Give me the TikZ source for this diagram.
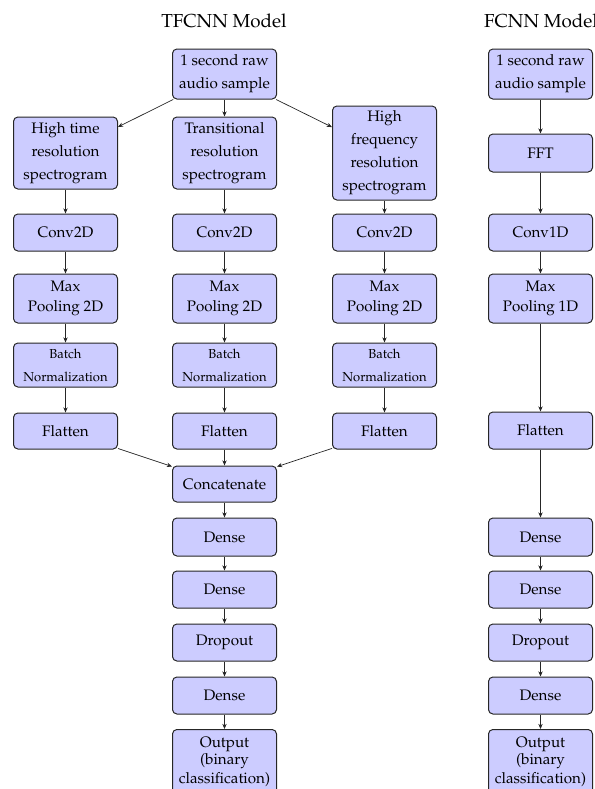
\documentclass[tikz,border=0pt]{standalone}
\usepackage[T1]{fontenc}
\usepackage{mathpazo}
\usetikzlibrary{arrows.meta}
\tikzset{
  box/.style={draw=black!85, line width=0.5pt, fill=blue!20, rounded corners=2.2pt,
    minimum width=52pt, inner sep=0pt, align=center,
    font=\fontsize{7.6}{11.5}\selectfont},
  smallbox/.style={box, font=\fontsize{6.5}{11.5}\selectfont},
  ttl/.style={font=\fontsize{9.4}{11}\selectfont, inner sep=0pt},
  conn/.style={draw=black!85, line width=0.35pt, -{Stealth[length=2.6pt,width=2.2pt]}}
}
\begin{document}
\begin{tikzpicture}[x=0.5pt,y=-0.5pt]
\useasboundingbox (0,0) rectangle (595,789);
\clip (0,0) rectangle (595,789);
% titles
\node[ttl] (t1) at (224,21) {TFCNN Model};
\node[ttl] (t2) at (541,21) {FCNN Model};
% TFCNN
\node[box, minimum height=25pt] (in1) at (224.5,74) {1 second raw\\audio sample};
\node[box, minimum height=36pt] (sp1) at (65.5,153) {High time\\resolution\\spectrogram};
\node[box, minimum height=36pt] (sp2) at (224.5,153) {Transitional\\resolution\\spectrogram};
\node[box, minimum height=47pt] (sp3) at (384.5,153) {High\\frequency\\resolution\\spectrogram};
\node[box, minimum height=18pt] (cat) at (224.5,484) {Concatenate};
\foreach \n/\x in {1/65.5,2/224.5,3/384.5}{
  \node[box, minimum height=18.5pt] (c\n) at (\x,232.5) {Conv2D};
  \node[box, minimum height=24.5pt] (m\n) at (\x,298.5) {Max\\[-1.5pt]Pooling 2D};
  \node[smallbox, minimum height=22pt] (b\n) at (\x,365) {Batch\\Normalization};
  \node[box, minimum height=18pt] (f\n) at (\x,431) {Flatten};
  \draw[conn] (sp\n) -- (c\n);
  \draw[conn] (c\n) -- (m\n);
  \draw[conn] (m\n) -- (b\n);
  \draw[conn] (b\n) -- (f\n);
  \draw[conn] (f\n) -- (cat);
}
\draw[conn] (in1) -- (sp1);
\draw[conn] (in1) -- (sp2);
\draw[conn] (in1) -- (sp3);
\node[box, minimum height=19pt] (d1) at (224.5,537) {Dense};
\node[box, minimum height=18.5pt] (d2) at (224.5,589.5) {Dense};
\node[box, minimum height=18.5pt] (dr) at (224.5,642.5) {Dropout};
\node[box, minimum height=18.5pt] (d3) at (224.5,695.5) {Dense};
\node[box, minimum height=32pt, anchor=north] (out) at (224.5,729) {Output\\[-3pt](binary\\[-2pt]classification)};
\draw[conn] (cat) -- (d1);
\draw[conn] (d1) -- (d2);
\draw[conn] (d2) -- (dr);
\draw[conn] (dr) -- (d3);
\draw[conn] (d3) -- (out);
% FCNN
\node[box, minimum height=25pt] (in2) at (540.5,74) {1 second raw\\audio sample};
\node[box, minimum height=19pt] (fft) at (540.5,153) {FFT};
\node[box, minimum height=18.5pt] (cf) at (540.5,232.5) {Conv1D};
\node[box, minimum height=24.5pt] (mf) at (540.5,298.5) {Max\\[-1.5pt]Pooling 1D};
\node[box, minimum height=18.5pt] (ff) at (540.5,430.5) {Flatten};
\node[box, minimum height=19pt] (e1) at (540.5,537) {Dense};
\node[box, minimum height=18.5pt] (e2) at (540.5,589.5) {Dense};
\node[box, minimum height=18.5pt] (er) at (540.5,642.5) {Dropout};
\node[box, minimum height=18.5pt] (e3) at (540.5,695.5) {Dense};
\node[box, minimum height=32pt, anchor=north] (out2) at (540.5,729) {Output\\[-3pt](binary\\[-2pt]classification)};
\draw[conn] (in2) -- (fft);
\draw[conn] (fft) -- (cf);
\draw[conn] (cf) -- (mf);
\draw[conn] (mf) -- (ff);
\draw[conn] (ff) -- (e1);
\draw[conn] (e1) -- (e2);
\draw[conn] (e2) -- (er);
\draw[conn] (er) -- (e3);
\draw[conn] (e3) -- (out2);
\end{tikzpicture}
\end{document}
